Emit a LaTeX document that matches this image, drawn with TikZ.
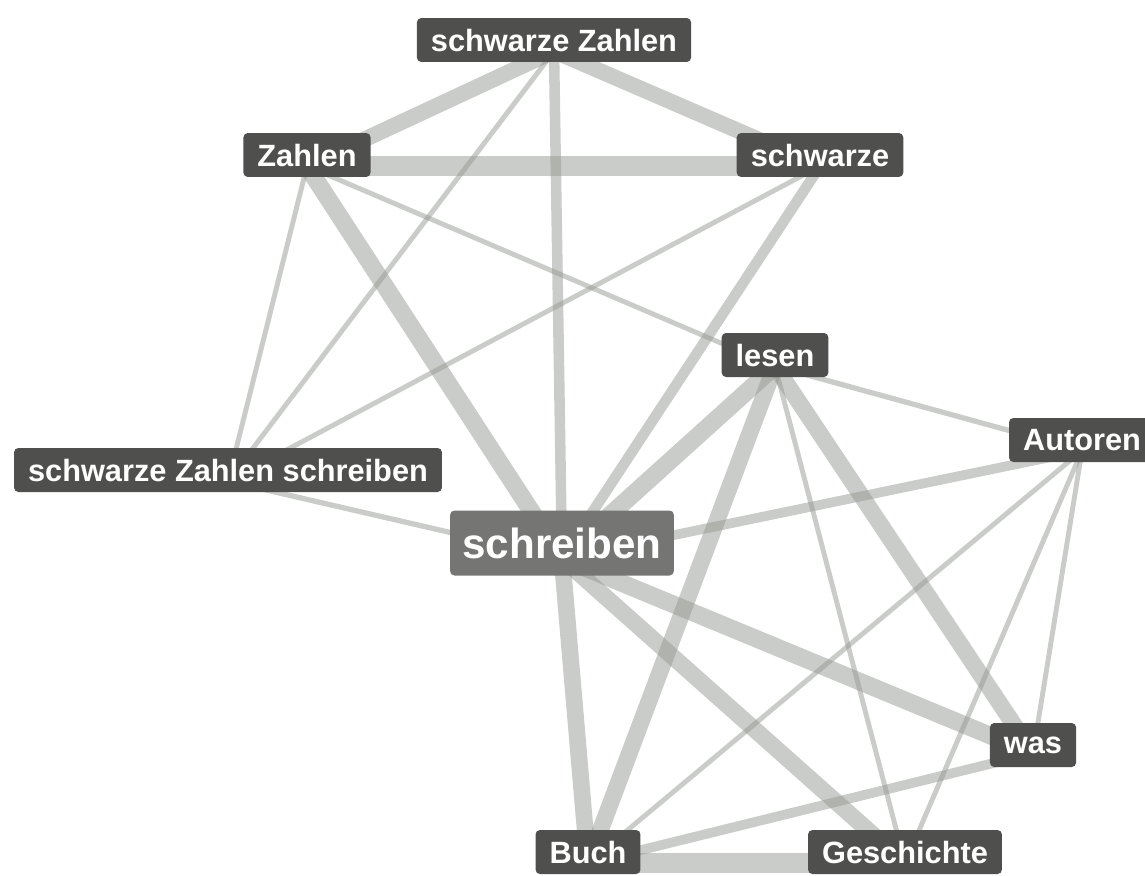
\documentclass[tikz,border=0pt]{standalone}
\usepackage{fontspec}
\setmainfont{Liberation Sans}
\usetikzlibrary{backgrounds}

\definecolor{wordgray}{RGB}{79,80,78}
\definecolor{hubgray}{RGB}{117,118,116}
\definecolor{tiegray}{RGB}{150,153,147}

\tikzset{
	word/.style={fill=wordgray, text=white, rounded corners=2.5pt,
		inner xsep=8pt, inner ysep=0pt, minimum height=0.88cm, text depth=0pt,
		font=\fontsize{17.5}{20}\selectfont\bfseries},
	hubword/.style={word, fill=hubgray, minimum height=1.3cm, inner xsep=7pt,
		font=\fontsize{24}{28}\selectfont\bfseries},
	tie/.style={draw=tiegray, draw opacity=0.5, line width=#1},
	tie/.default=2.8pt
}

\begin{document}
\begin{tikzpicture}[x=0.02cm, y=-0.02cm]
	\useasboundingbox (0,0) rectangle (1145,875);
	\clip (0,0) rectangle (1145,875);
	% words
	\node[word] (sz) at (554,40) {schwarze Zahlen};
	\node[word] (zahlen) at (307,155) {Zahlen};
	\node[word] (schwarze) at (820,155) {schwarze};
	\node[word] (lesen) at (775,355) {lesen};
	\node[word] (autoren) at (1082,440) {Autoren};
	\node[word] (szs) at (228,470) {schwarze Zahlen schreiben};
	\node[hubword] (schreiben) at (562,543) {schreiben};
	\node[word] (was) at (1033,745) {was};
	\node[word] (buch) at (588,852) {Buch};
	\node[word] (geschichte) at (905,852) {Geschichte};
	% ties
	\begin{scope}[on background layer]
		\foreach \a/\b/\w in {sz/zahlen/9pt, sz/schwarze/9pt, zahlen/schwarze/11pt,
				sz/schreiben/6pt, sz/szs/2.8pt, zahlen/szs/2.8pt,
				zahlen/schreiben/10pt, zahlen/lesen/2.8pt, schwarze/szs/2.8pt,
				schwarze/schreiben/6pt, szs/schreiben/3pt, schreiben/lesen/10pt,
				schreiben/autoren/5.5pt, schreiben/was/10pt, schreiben/buch/9.5pt,
				schreiben/geschichte/9.5pt, lesen/autoren/3pt, lesen/buch/9.5pt,
				lesen/geschichte/2.8pt, lesen/was/9.5pt, autoren/buch/2.8pt,
				autoren/was/2.8pt, autoren/geschichte/2.8pt, was/buch/5.5pt,
				buch/geschichte/11pt}
			\draw[tie=\w] (\a.base) -- (\b.base);
	\end{scope}
\end{tikzpicture}
\end{document}
